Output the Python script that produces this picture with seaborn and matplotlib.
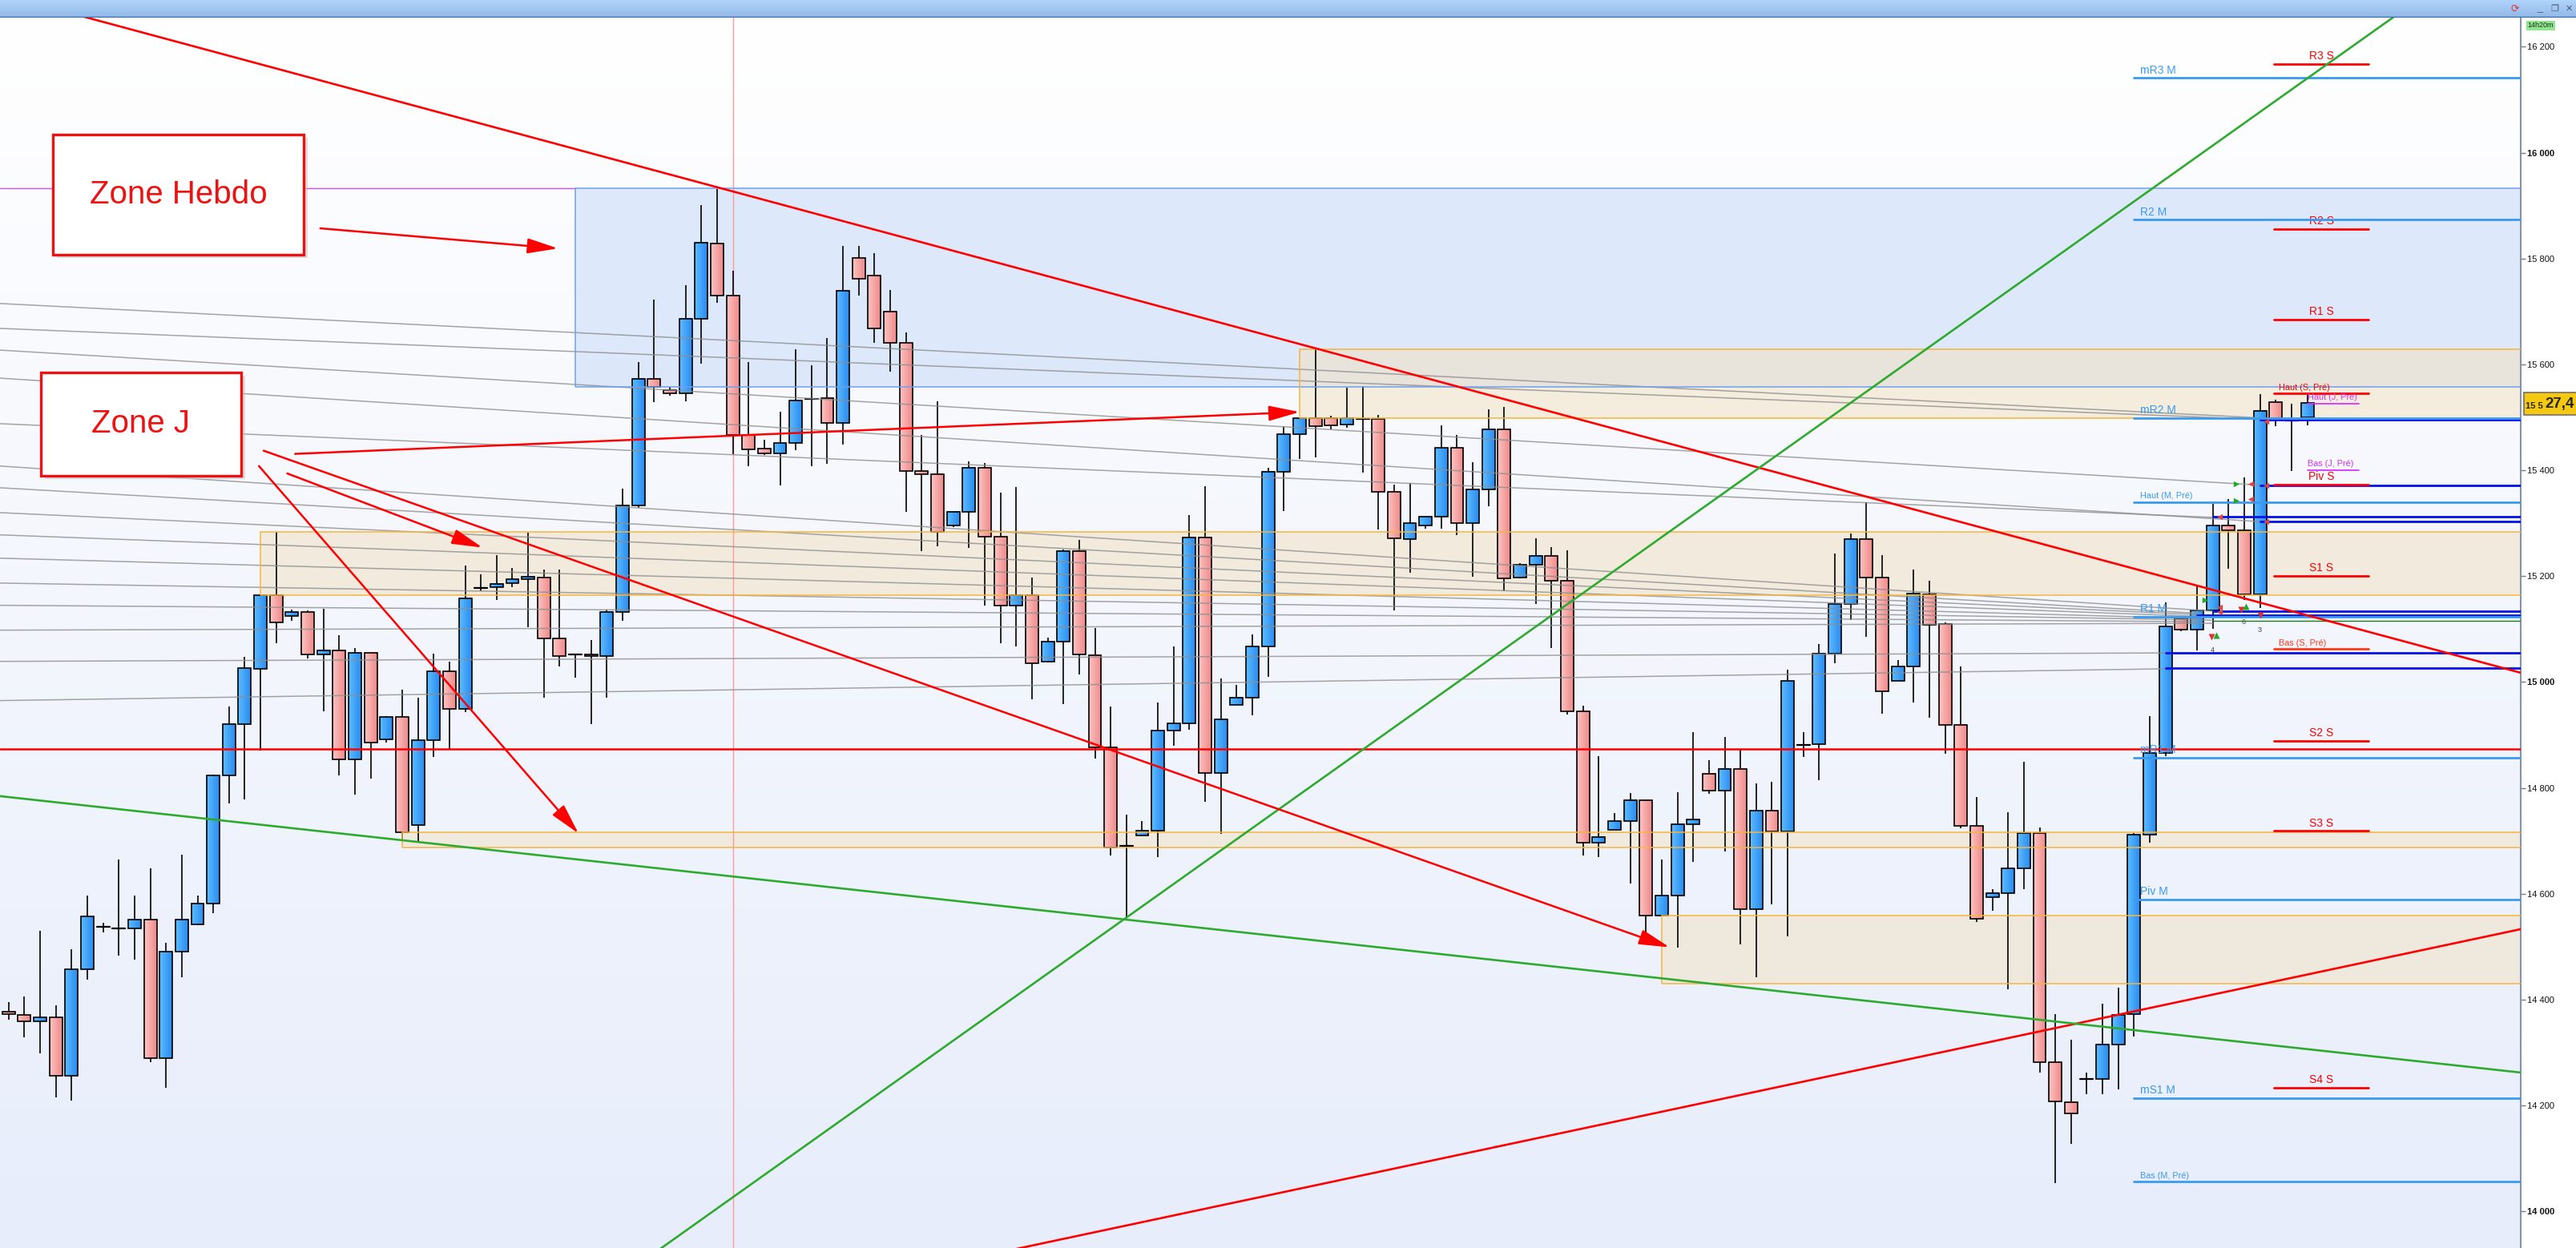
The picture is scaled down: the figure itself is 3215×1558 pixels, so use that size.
import numpy as np
import pandas as pd
import matplotlib
matplotlib.use("Agg")
import matplotlib.pyplot as plt
from matplotlib.colors import LinearSegmentedColormap
from matplotlib.patches import Rectangle
import seaborn as sns

# ---------------- candles (oldest first) ----------------
opens = [14378, 14371, 14359, 14366, 14257, 14458, 14538, 14535, 14535, 14551,
         14290, 14491, 14542, 14582, 14823, 14921, 15025, 15164, 15125, 15132,
         15052, 15060, 14854, 15055, 14892, 14934, 14730, 14890, 15020, 14949,
         15177, 15179, 15187, 15194, 15198, 15082, 15052, 15052, 15049, 15133,
         15333, 15573, 15551, 15545, 15686, 15828, 15730, 15466, 15441, 15432,
         15451, 15535, 15536, 15489, 15801, 15768, 15700, 15640, 15398, 15393,
         15295, 15321, 15405, 15274, 15144, 15164, 15039, 15076, 15248, 15050,
         14876, 14690, 14710, 14720, 14909, 14922, 15273, 14828, 14957, 14971,
         15067, 15397, 15468, 15498, 15498, 15486, 15497, 15497, 15360, 15270,
         15295, 15312, 15442, 15300, 15364, 15478, 15197, 15222, 15239, 15192,
         14944, 14696, 14721, 14737, 14777, 14559, 14596, 14731, 14827, 14795,
         14836, 14571, 14757, 14718, 14881, 14883, 15054, 15147, 15270, 15197,
         15002, 15029, 15165, 15109, 14919, 14728, 14594, 14602, 14648, 14715,
         14282, 14207, 14250, 14250, 14316, 14373, 14712, 14866, 15120, 15099,
         15135, 15295, 15286, 15165, 15529, 15494, 15500]
highs = [14396, 14406, 14530, 14390, 14495, 14596, 14546, 14665, 14596, 14648,
         14508, 14674, 14596, 14825, 14954, 15048, 15164, 15283, 15137, 15135,
         15138, 15089, 15065, 15055, 14936, 14985, 14971, 15054, 15039, 15220,
         15204, 15240, 15216, 15282, 15212, 15212, 15052, 15079, 15137, 15365,
         15605, 15722, 15557, 15749, 15901, 15931, 15777, 15604, 15457, 15511,
         15629, 15599, 15650, 15824, 15824, 15810, 15740, 15660, 15466, 15530,
         15323, 15417, 15414, 15358, 15369, 15198, 15084, 15251, 15269, 15102,
         14954, 14749, 14737, 14962, 15068, 15316, 15370, 15007, 14994, 15090,
         15404, 15484, 15498, 15628, 15503, 15556, 15559, 15505, 15373, 15376,
         15312, 15485, 15467, 15416, 15515, 15520, 15225, 15272, 15255, 15249,
         14956, 14860, 14753, 14791, 14777, 14665, 14792, 14906, 14853, 14897,
         14874, 14808, 14812, 15023, 14906, 15072, 15243, 15281, 15340, 15240,
         15042, 15213, 15191, 15113, 15029, 14783, 14609, 14754, 14849, 14725,
         14373, 14325, 14263, 14392, 14422, 14714, 14936, 15150, 15120, 15180,
         15336, 15345, 15387, 15544, 15534, 15526, 15543]
lows = [14362, 14329, 14299, 14216, 14210, 14438, 14527, 14483, 14475, 14282,
        14233, 14442, 14540, 14564, 14770, 14779, 14871, 15073, 15116, 15045,
        14945, 14824, 14787, 14818, 14885, 14700, 14700, 14858, 14872, 14943,
        15171, 15155, 15179, 15104, 14971, 15030, 15009, 14921, 14971, 15116,
        15329, 15528, 15541, 15530, 15601, 15716, 15430, 15407, 15429, 15372,
        15438, 15407, 15412, 15448, 15730, 15640, 15586, 15321, 15248, 15256,
        15292, 15253, 15145, 15074, 15068, 14967, 15037, 14959, 15014, 14856,
        14673, 14554, 14710, 14669, 14880, 14910, 14774, 14713, 14957, 14937,
        15010, 15323, 15421, 15425, 15477, 15480, 15396, 15288, 15135, 15207,
        15289, 15289, 15278, 15199, 15332, 15171, 15196, 15147, 15065, 14938,
        14672, 14669, 14721, 14619, 14505, 14559, 14499, 14661, 14789, 14680,
        14505, 14442, 14580, 14520, 14858, 14815, 15035, 15117, 15086, 14940,
        15002, 14962, 14932, 14864, 14724, 14547, 14568, 14419, 14609, 14263,
        14054, 14127, 14221, 14221, 14230, 14331, 14696, 14860, 15096, 15060,
        15101, 15214, 15155, 15140, 15483, 15399, 15485]
closes = [14373, 14359, 14366, 14257, 14458, 14557, 14538, 14535, 14551, 14290,
          14491, 14552, 14582, 14823, 14921, 15026, 15164, 15113, 15132, 15052,
          15060, 14854, 15055, 14885, 14934, 14717, 14890, 15020, 14949, 15158,
          15177, 15186, 15194, 15199, 15082, 15049, 15052, 15049, 15133, 15333,
          15573, 15557, 15545, 15686, 15830, 15730, 15466, 15439, 15432, 15451,
          15532, 15535, 15489, 15739, 15762, 15668, 15640, 15398, 15393, 15284,
          15321, 15405, 15274, 15144, 15164, 15035, 15076, 15248, 15052, 14876,
          14687, 14690, 14720, 14909, 14922, 15273, 14828, 14929, 14971, 15067,
          15397, 15468, 15498, 15483, 15485, 15498, 15497, 15360, 15271, 15300,
          15312, 15442, 15300, 15364, 15478, 15196, 15221, 15239, 15192, 14944,
          14696, 14707, 14737, 14777, 14559, 14596, 14731, 14740, 14795, 14836,
          14571, 14757, 14718, 15002, 14881, 15054, 15147, 15270, 15197, 14983,
          15029, 15167, 15108, 14919, 14728, 14553, 14602, 14648, 14715, 14282,
          14208, 14185, 14250, 14316, 14371, 14712, 14866, 15105, 15099, 15135,
          15295, 15286, 15165, 15512, 15499, 15494, 15527]

# ---------------- zones: first bar, low, high ----------------
zone_starts = [36, 82, 16, 25, 105]
zone_lows = [15557, 15498, 15164, 14688, 14430]
zone_highs = [15932, 15628, 15284, 14717, 14559]
zone_kinds = ["hebdo", "jour", "jour", "jour", "jour"]

# monthly levels (light blue, from bar 135)
m_names = ["mR3 M", "R2 M", "mR2 M", "Haut (M, Pré)", "R1 M", "mR1 M", "Piv M", "mS1 M", "Bas (M, Pré)"]
m_levels = [16141, 15873, 15499, 15340, 15124, 14857, 14589, 14214, 14056]
# weekly levels (red, short)
s_names = ["R3 S", "R2 S", "R1 S", "Haut (S, Pré)", "Piv S", "S1 S", "Bas (S, Pré)", "S2 S", "S3 S", "S4 S"]
s_levels = [16168, 15856, 15685, 15545, 15373, 15201, 15062, 14889, 14719, 14234]
# daily levels (magenta, short)
j_names = ["Haut (J, Pré)", "Bas (J, Pré)"]
j_levels = [15526, 15400]
# dark blue levels: first bar, price
nb_starts = [143, 143, 140, 143, 140, 139, 137, 137]
nb_levels = [15495, 15372, 15312, 15304, 15134, 15127, 15055, 15026]
green_level_start, green_level = 140, 15115

# grey fan lines: price at left edge -> (bar, price) at the end
gray_left = [15715, 15668, 15627, 15574, 15488, 15408, 15367, 15320, 15278, 15234, 15187, 15145, 15098, 15039, 14965]
gray_end_bar = [143, 143, 143, 143, 140, 140, 139, 140, 140, 139, 140, 139, 140, 137, 137]
gray_end = [15499, 15496, 15372, 15303, 15311, 15134, 15130, 15126, 15123, 15120, 15117, 15114, 15111, 15055, 15025]

red_level = 14874
magenta_level, magenta_end = 15932, 36
vline_bar = 46

# trend lines (bar, price)
red_down_x, red_down_p = [-1, 160], [16303, 15014]
red_up_x, red_up_p = [60, 160], [13904, 14536]
green_up_x, green_up_p = [40, 152], [13900, 16267]
green_down_x, green_down_p = [-1, 160], [14786, 14261]

# annotation arrows (bar, price)
arrow_x0 = [19.8, 18.2, 17.7, 15.9, 16.2]
arrow_p0 = [15857, 15431, 15394, 15408, 15437]
arrow_x1 = [34.9, 82.0, 30.1, 36.2, 105.5]
arrow_p1 = [15819, 15510, 15254, 14714, 14499]

# signal markers near the last bars
sig_right_x, sig_right_p = [141.5, 141.5, 139.5], [15375, 15343, 15155]
sig_left_x = [142.4, 142.4, 140.4, 143.4, 143.4, 143.4, 140.4, 140.4]
sig_left_p = [15375, 15346, 15312, 15492, 15372, 15304, 15142, 15133]
sig_down_x, sig_down_p = [139.9, 141.8, 143.0], [15086, 15137, 15127]
sig_up_x, sig_up_p = [140.2, 142.1], [15089, 15143]
sig_num_x, sig_num_p, sig_num = [139.96, 141.95, 142.97], [15068, 15120, 15105], ["4", "6", "3"]

yticks = list(range(14000, 16201, 200))

# ---------------- figure ----------------
W, H, DPI = 3215, 1558, 100
sns.set_style("white")
plt.rcParams["font.family"] = ["Liberation Sans", "DejaVu Sans"]

fig = plt.figure(figsize=(W / DPI, H / DPI), dpi=DPI, facecolor="white")
BAR = 22
ax = fig.add_axes([0, 0, 3146 / W, (H - BAR) / H])
XL = (-0.545, 159.56)
YL = (13931, 16255)

# background gradient: white at the top, pale blue at the bottom
bg = LinearSegmentedColormap.from_list("bg", ["#ffffff", "#f3f6fd", "#e7edfb"])
ax.imshow(np.linspace(0, 1, 256).reshape(-1, 1), extent=(XL[0], XL[1], YL[0], YL[1]),
          cmap=bg, aspect="auto", zorder=0, origin="upper")

# zones
for s, lo, hi, k in zip(zone_starts, zone_lows, zone_highs, zone_kinds):
    if k == "hebdo":
        fc, ec, al = "#d5e2fa", "#6f9ff0", 0.75
    else:
        fc, ec, al = "#f2e2c4", "#f5b53f", 0.55
    ax.add_patch(Rectangle((s, lo), 170 - s, hi - lo, fc=fc, ec="none", alpha=al, zorder=1))
    ax.add_patch(Rectangle((s, lo), 170 - s, hi - lo, fc="none", ec=ec, lw=1.1, zorder=4.5))

# vertical marker and weekly high line
ax.axvline(vline_bar, color="#ff9a9a", lw=1.0, zorder=1.5)
ax.plot([XL[0], magenta_end], [magenta_level, magenta_level], color="#d94cf5", lw=1.0, zorder=2)

# candles
df = pd.DataFrame({"o": opens, "h": highs, "l": lows, "c": closes})
df["i"] = np.arange(len(df))
bw = 0.81
blue_cm = LinearSegmentedColormap.from_list("bl", ["#5dbbff", "#2a8cef"])
pink_cm = LinearSegmentedColormap.from_list("pk", ["#fcc3c2", "#ee8a89"])
grad = np.linspace(0, 1, 32).reshape(1, -1)
ax.vlines(df["i"], df["l"], df["h"], color="black", lw=1.2, zorder=3)
for r in df.itertuples():
    lo, hi = min(r.o, r.c), max(r.o, r.c)
    if hi - lo < 2:
        ax.plot([r.i - bw / 2, r.i + bw / 2], [r.o, r.o], color="black", lw=1.6, zorder=3.2)
        continue
    cm = blue_cm if r.c >= r.o else pink_cm
    ax.imshow(grad, extent=(r.i - bw / 2, r.i + bw / 2, lo, hi), cmap=cm, aspect="auto",
              zorder=3.1, interpolation="bilinear")
    ax.add_patch(Rectangle((r.i - bw / 2, lo), bw, hi - lo, fc="none", ec="black", lw=1.2, zorder=3.2))

# grey fan lines
gdf = pd.DataFrame({
    "line": np.repeat(np.arange(len(gray_left)), 2),
    "x": np.ravel(np.column_stack([np.full(len(gray_left), XL[0]), gray_end_bar])),
    "p": np.ravel(np.column_stack([gray_left, gray_end])),
})
sns.lineplot(data=gdf, x="x", y="p", units="line", estimator=None, sort=False,
             color="#8e8e8e", lw=1.1, alpha=0.8, ax=ax, legend=False, zorder=4)

# horizontal levels
ax.axhline(red_level, color="#ff0000", lw=1.8, zorder=5)
for s, v in zip(nb_starts, nb_levels):
    ax.plot([s, XL[1]], [v, v], color="#0010e8", lw=2.0, zorder=5.2)
ax.plot([green_level_start, XL[1]], [green_level, green_level], color="#1b7d1b", lw=1.0, zorder=5.1)

for n, v in zip(m_names, m_levels):
    ax.plot([135, XL[1]], [v, v], color="#3a9af0", lw=2.0, zorder=5.3)
    fs = 7.8 if "Pré" in n else 10
    ax.text(135.4, v + 4, n, color="#3a9af0", fontsize=fs, ha="left", va="bottom", zorder=5.4)
for n, v in zip(s_names, s_levels):
    col = "#ff3a1a" if n.startswith("Bas") else "#ff0000"
    ax.plot([143.9, 149.9], [v, v], color=col, lw=2.0, zorder=5.25)
    if "Pré" in n:
        ax.text(144.2, v + 4, n, color=col, fontsize=7.8, ha="left", va="bottom", zorder=5.25)
    else:
        ax.text(146.9, v + 4, n, color=col, fontsize=10, ha="center", va="bottom", zorder=5.25)
for n, v in zip(j_names, j_levels):
    ax.plot([146.0, 149.3], [v, v], color="#d633ff", lw=1.3, zorder=5.3)
    ax.text(146.0, v + 4, n, color="#d633ff", fontsize=7.8, ha="left", va="bottom", zorder=5.3)

# trend lines
for xs, ps, col in [(red_down_x, red_down_p, "#ff0000"), (red_up_x, red_up_p, "#ff0000"),
                    (green_up_x, green_up_p, "#2eaa2e"), (green_down_x, green_down_p, "#2eaa2e")]:
    sns.lineplot(x=xs, y=ps, color=col, lw=1.9, ax=ax, legend=False, zorder=6)

# signal markers
ax.scatter(sig_right_x, sig_right_p, marker=">", s=28, color="#22aa22", zorder=6.5, lw=0)
ax.scatter(sig_left_x, sig_left_p, marker="<", s=28, color="#dd4444", zorder=6.5, lw=0)
ax.scatter(sig_down_x, sig_down_p, marker="v", s=34, color="#dd3333", zorder=6.5, lw=0)
ax.scatter(sig_up_x, sig_up_p, marker="^", s=34, color="#22aa22", zorder=6.5, lw=0)
for x, p, t in zip(sig_num_x, sig_num_p, sig_num):
    ax.text(x, p, t, fontsize=6.5, color="#444444", ha="center", va="top", zorder=6.5)

# annotation arrows
for x0, p0, x1, p1 in zip(arrow_x0, arrow_p0, arrow_x1, arrow_p1):
    ax.annotate("", xy=(x1, p1), xytext=(x0, p0), zorder=7,
                arrowprops=dict(arrowstyle="-|>,head_length=1.3,head_width=0.32", color="#ff0000",
                                lw=1.8, mutation_scale=18, shrinkA=0, shrinkB=0))

# text boxes
for (x0, x1, p0, p1, txt) in [(2.81, 18.74, 15807, 16034, "Zone Hebdo"),
                              (2.05, 14.77, 15390, 15585, "Zone J")]:
    ax.add_patch(Rectangle((x0 + 0.25, p0 - 6), x1 - x0, p1 - p0, fc="#c8c8c8", ec="none", alpha=0.6, zorder=7.5))
    ax.add_patch(Rectangle((x0, p0), x1 - x0, p1 - p0, fc="white", ec="#ee1111", lw=2.4, zorder=8))
    ax.text((x0 + x1) / 2, (p0 + p1) / 2, txt, color="#ee1111", fontsize=29, ha="center", va="center", zorder=8.5)

ax.set_xlim(*XL)
ax.set_ylim(*YL)
ax.set_xticks([])
ax.yaxis.tick_right()
ax.set_yticks(yticks)
ax.set_yticklabels([f"{v:,}".replace(",", " ") for v in yticks])
for lbl, v in zip(ax.get_yticklabels(), yticks):
    if v % 1000 == 0:
        lbl.set_fontweight("bold")
ax.tick_params(axis="y", direction="out", length=4, width=1, color="#7a7a7a", labelsize=8, pad=2,
               labelcolor="#111111")
for s in ["top", "left", "bottom"]:
    ax.spines[s].set_visible(False)
ax.spines["right"].set_color("#8494a8")
ax.spines["right"].set_linewidth(1.5)
ax.set_xlabel("")
ax.set_ylabel("")

# title bar
tb = fig.add_axes([0, (H - BAR) / H, 1, BAR / H])
tcm = LinearSegmentedColormap.from_list("tb", ["#b0d4fb", "#92b8e7"])
tb.imshow(np.linspace(0, 1, 32).reshape(-1, 1), cmap=tcm, aspect="auto", extent=(0, 1, 0, 1))
tb.axhline(0.02, color="#3d6eae", lw=2.5)
tb.set_xlim(0, 1)
tb.set_ylim(0, 1)
tb.axis("off")
tb.text(3139 / W, 0.5, "⟳", color="#d33", fontsize=9, ha="center", va="center", family=["DejaVu Sans"])
tb.text(3170 / W, 0.55, "_", color="#4a5a78", fontsize=9, ha="center", va="center")
tb.text(3188 / W, 0.5, "❐", color="#4a5a78", fontsize=8, ha="center", va="center", family=["DejaVu Sans"])
tb.text(3206 / W, 0.5, "✕", color="#4a5a78", fontsize=8, ha="center", va="center", family=["DejaVu Sans"])

# clock box and last price box
fig.text(3171 / W, 1 - 32 / H, "14h20m", fontsize=6.5, ha="center", va="center", color="#203020",
         bbox=dict(fc="#90e690", ec="none", pad=1.2))
fig.patches.append(Rectangle((3150 / W, 1 - 518 / H), 70 / W, 28 / H, transform=fig.transFigure,
                             fc="#f5c811", ec="#707070", lw=1.2, zorder=10))
fig.text(3152 / W, 1 - 507 / H, "15 5", fontsize=8, fontweight="bold", ha="left", va="center", zorder=11)
fig.text(3176 / W, 1 - 505 / H, "27,4", fontsize=13.5, fontweight="bold", ha="left", va="center", zorder=11)

fig.savefig("out.png", dpi=DPI)
